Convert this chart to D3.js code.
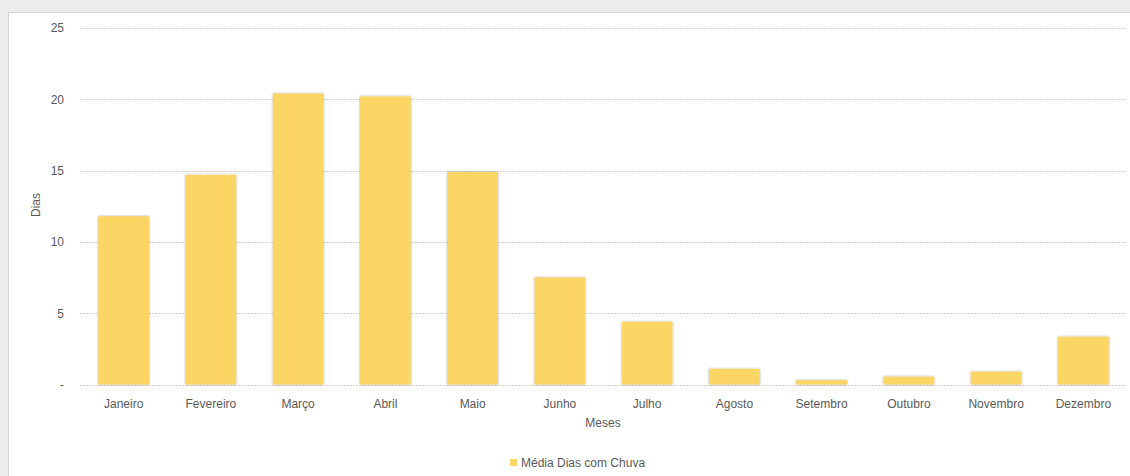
<!DOCTYPE html>
<meta charset="utf-8">
<style>
  body { margin: 0; background: #ececec; }
  * { font-family: "Liberation Sans", Arial, sans-serif; }
  .grid line { stroke: #d2d2d2; stroke-dasharray: 2,1; }
  .lbl { fill: #595959; font-size: 12px; }
</style>
<body>
<script src="https://d3js.org/d3.v7.min.js"></script>
<script>

// chart data
var months = ["Janeiro", "Fevereiro", "Março", "Abril", "Maio", "Junho", "Julho",
              "Agosto", "Setembro", "Outubro", "Novembro", "Dezembro"];
var rainDays = [11.8, 14.7, 20.4, 20.2, 14.9, 7.5, 4.4, 1.1, 0.3, 0.55, 0.9, 3.35];
var yTicks = [0, 5, 10, 15, 20, 25];
var seriesName = "Média Dias com Chuva";

var W = 1130, H = 476;
var margin = {top: 28, right: 3, bottom: 92, left: 80};

var svg = d3.select("body").append("svg")
    .attr("width", W)
    .attr("height", H);

// drop shadow used by the bars
var defs = svg.append("defs");
var f = defs.append("filter").attr("id", "shadow")
    .attr("x", "-20%").attr("y", "-20%").attr("width", "140%").attr("height", "140%");
f.append("feDropShadow").attr("dx", 0).attr("dy", 0)
    .attr("stdDeviation", 1.3).attr("flood-color", "#000").attr("flood-opacity", 0.4);

// white panel
svg.append("rect")
    .attr("x", 8.5).attr("y", 12.5)
    .attr("width", W).attr("height", H)
    .attr("fill", "#fff").attr("stroke", "#d6d6d6");

var g = svg.append("g").attr("transform", "translate(" + margin.left + "," + margin.top + ")");
var width = W - margin.left - margin.right,
    height = 384.5 - margin.top;

var x = d3.scaleBand().domain(months).range([0, width]).paddingInner(0.42).paddingOuter(0.21);
var y = d3.scaleLinear().domain([0, 25]).range([height, 0]);

// gridlines
g.append("g").attr("class", "grid")
  .selectAll("line").data(yTicks).enter().append("line")
    .attr("x1", 0).attr("x2", width)
    .attr("y1", function(d) { return Math.round(y(d)) + 0.5; })
    .attr("y2", function(d) { return Math.round(y(d)) + 0.5; });

// y axis labels
var yAxis = g.append("g")
    .call(d3.axisLeft(y).tickValues(yTicks).tickSize(0).tickPadding(16)
      .tickFormat(function(d) { return d === 0 ? "-" : d; }));
yAxis.select(".domain").remove();
yAxis.selectAll("text").attr("class", "lbl").attr("font-size", null).attr("font-family", null);

// bars
g.selectAll(".bar")
  .data(rainDays)
  .enter().append("rect")
    .attr("class", "bar")
    .attr("x", function(d, i) { return x(months[i]); })
    .attr("width", x.bandwidth())
    .attr("y", function(d) { return y(d); })
    .attr("height", function(d) { return height - y(d); })
    .attr("fill", "#fcd665")
    .attr("filter", "url(#shadow)");

// x axis labels
var xAxis = g.append("g")
    .attr("transform", "translate(0," + height + ")")
    .call(d3.axisBottom(x).tickSize(0).tickPadding(15));
xAxis.select(".domain").remove();
xAxis.selectAll("text").attr("class", "lbl").attr("font-size", null).attr("font-family", null);

// axis titles
svg.append("text")
    .attr("class", "lbl")
    .attr("transform", "translate(40,205) rotate(-90)")
    .attr("text-anchor", "middle")
    .text("Dias");

svg.append("text")
    .attr("class", "lbl")
    .attr("x", 603).attr("y", 427)
    .attr("text-anchor", "middle")
    .text("Meses");

// legend
var legend = svg.append("g").attr("transform", "translate(510,459)");
legend.append("rect").attr("width", 7).attr("height", 7).attr("fill", "#fcd665");
legend.append("text").attr("class", "lbl")
    .attr("x", 11).attr("y", 7.5)
    .text(seriesName);

</script>
</body>
